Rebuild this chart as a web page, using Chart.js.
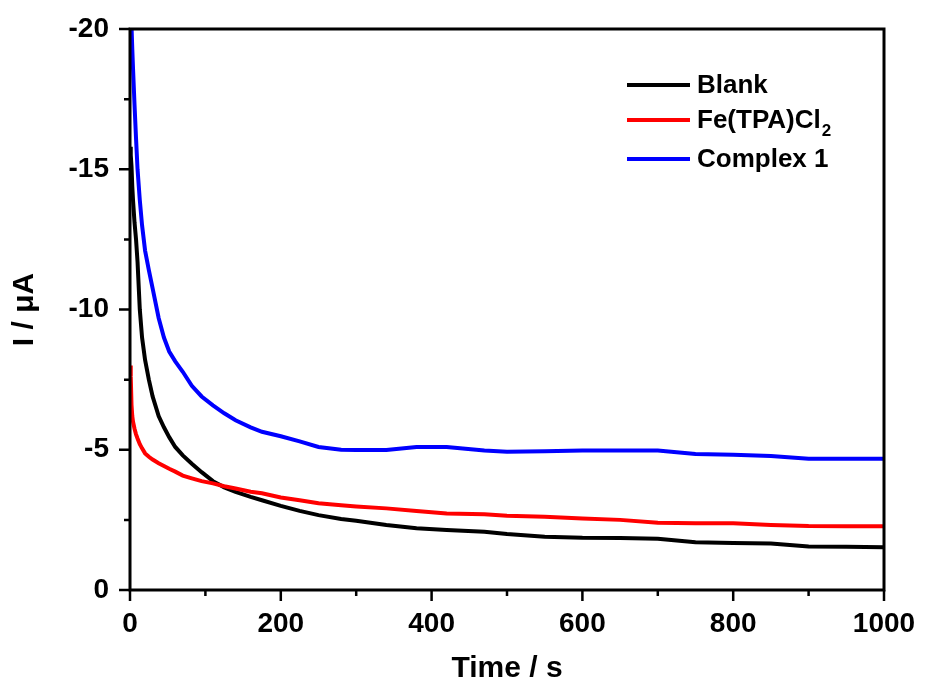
<!DOCTYPE html>
<html>
<head>
    <title>I / μA vs Time</title>
    <script src="https://cdn.jsdelivr.net/npm/chart.js"></script>
    <style>
        body { margin: 0; background: #fff; }
        canvas { display: block; }
    </style>
</head>
<body>
<canvas id="itChart" width="925" height="686"></canvas>

<script>
    // time points (s)
    const times = [0, 1, 2, 3, 4, 6, 8, 10, 13, 16, 20, 25, 30, 38, 45, 52, 60, 70, 82, 95,
                   110, 125, 140, 160, 175, 200, 225, 250, 280, 300, 340, 380, 420, 470, 500,
                   550, 600, 650, 700, 750, 800, 850, 900, 950, 1000];
    // currents (uA)
    const blank = [-15.8, -15.5, -15.1, -14.4, -13.9, -13.1, -12.5, -11.7, -10.0, -9.0, -8.2, -7.5, -6.9, -6.2, -5.8, -5.45, -5.1, -4.8, -4.5, -4.2,
                   -3.88, -3.66, -3.5, -3.32, -3.2, -3.0, -2.82, -2.67, -2.53, -2.47, -2.32, -2.2, -2.14, -2.08, -2.0,
                   -1.9, -1.86, -1.85, -1.83, -1.7, -1.68, -1.66, -1.55, -1.54, -1.52];
    const feTpa = [-8.0, -7.6, -6.6, -6.2, -6.0, -5.75, -5.55, -5.4, -5.2, -5.05, -4.87, -4.75, -4.65, -4.52, -4.42, -4.32, -4.22, -4.08, -3.98, -3.88,
                   -3.8, -3.7, -3.62, -3.5, -3.45, -3.3, -3.2, -3.09, -3.02, -2.98, -2.91, -2.82, -2.73, -2.7, -2.65,
                   -2.61, -2.55, -2.5, -2.4, -2.38, -2.38, -2.32, -2.28, -2.27, -2.27];
    const complex1 = [-22, -21, -20.1, -19.3, -18.6, -17.3, -16.1, -15.0, -13.9, -13.0, -12.1, -11.4, -10.75, -9.7, -9.0, -8.5, -8.15, -7.78, -7.28, -6.9,
                      -6.58, -6.3, -6.05, -5.8, -5.64, -5.48, -5.3, -5.1, -5.0, -4.99, -4.99, -5.1, -5.1, -4.97, -4.93,
                      -4.95, -4.97, -4.97, -4.97, -4.85, -4.82, -4.78, -4.68, -4.68, -4.68];

    const labels = ['Blank', 'Fe(TPA)Cl', 'Complex 1'];
    const labelSubs = ['', '2', ''];
    const colors = ['#000000', '#ff0000', '#0000ff'];

    const xMajor = [0, 200, 400, 600, 800, 1000];
    const xMinor = [100, 300, 500, 700, 900];
    const yMajor = [0, -5, -10, -15, -20];
    const yMinor = [-2.5, -7.5, -12.5, -17.5];

    const FONT = "'Liberation Sans', Arial, sans-serif";

    function toPoints(ys) {
        return times.map((t, i) => ({ x: t, y: ys[i] }));
    }

    // frame, major/minor ticks and legend
    const decorPlugin = {
        id: 'decor',
        afterDraw(chart) {
            const c = chart.ctx;
            const a = chart.chartArea;
            const xs = chart.scales.x, ys = chart.scales.y;
            c.save();
            c.strokeStyle = '#000';
            c.lineWidth = 3;
            c.strokeRect(a.left, a.top, a.right - a.left, a.bottom - a.top);
            c.lineWidth = 2.5;
            c.beginPath();
            xMajor.forEach(v => { const p = xs.getPixelForValue(v); c.moveTo(p, a.bottom); c.lineTo(p, a.bottom + 11); });
            xMinor.forEach(v => { const p = xs.getPixelForValue(v); c.moveTo(p, a.bottom); c.lineTo(p, a.bottom + 6); });
            yMajor.forEach(v => { const p = ys.getPixelForValue(v); c.moveTo(a.left, p); c.lineTo(a.left - 11, p); });
            yMinor.forEach(v => { const p = ys.getPixelForValue(v); c.moveTo(a.left, p); c.lineTo(a.left - 6, p); });
            c.stroke();

            // legend
            const rows = [85, 120, 159];
            c.textBaseline = 'middle';
            c.textAlign = 'left';
            rows.forEach((y, i) => {
                c.strokeStyle = colors[i];
                c.lineWidth = 4;
                c.beginPath();
                c.moveTo(627, y);
                c.lineTo(690, y);
                c.stroke();
                c.fillStyle = '#000';
                c.font = 'bold 26px ' + FONT;
                c.fillText(labels[i], 697, y + 1);
                if (labelSubs[i]) {
                    const w = c.measureText(labels[i]).width;
                    c.font = 'bold 17px ' + FONT;
                    c.fillText(labelSubs[i], 697 + w + 1, y + 11);
                }
            });
            c.restore();
        }
    };

    const chart = new Chart(document.getElementById('itChart'), {
        type: 'line',
        data: {
            datasets: [
                { label: 'Blank', data: toPoints(blank), borderColor: colors[0], order: 2 },
                { label: 'Fe(TPA)Cl2', data: toPoints(feTpa), borderColor: colors[1], order: 1 },
                { label: 'Complex 1', data: toPoints(complex1), borderColor: colors[2], order: 0 }
            ]
        },
        options: {
            responsive: false,
            animation: false,
            layout: { padding: { left: 0, top: 29, right: 41, bottom: 0 } },
            elements: {
                line: { borderWidth: 4, tension: 0 },
                point: { radius: 0 }
            },
            datasets: { line: { clip: 0 } },
            plugins: {
                legend: { display: false },
                tooltip: { enabled: false }
            },
            scales: {
                x: {
                    type: 'linear',
                    min: 0,
                    max: 1000,
                    afterFit: s => { s.height = 96; s.paddingLeft = 0; s.paddingRight = 0; },
                    grid: { display: false, drawTicks: false },
                    border: { display: false },
                    ticks: {
                        stepSize: 200,
                        padding: 17,
                        color: '#000',
                        maxRotation: 0,
                        callback: v => String(v),
                        font: { family: FONT, size: 28, weight: 'bold' }
                    },
                    title: {
                        display: true,
                        text: 'Time / s',
                        color: '#000',
                        padding: { top: 0, bottom: 2 },
                        font: { family: FONT, size: 30, weight: 'bold', lineHeight: 1 }
                    }
                },
                y: {
                    min: -20,
                    max: 0,
                    reverse: true,
                    afterFit: s => { s.width = 130; s.paddingTop = 0; s.paddingBottom = 0; },
                    grid: { display: false, drawTicks: false },
                    border: { display: false },
                    ticks: {
                        stepSize: 5,
                        padding: 21,
                        color: '#000',
                        font: { family: FONT, size: 28, weight: 'bold' }
                    },
                    title: {
                        display: true,
                        text: 'I / μA',
                        color: '#000',
                        padding: { top: 10, bottom: 0 },
                        font: { family: FONT, size: 30, weight: 'bold', lineHeight: 1 }
                    }
                }
            }
        },
        plugins: [decorPlugin]
    });
</script>
</body>
</html>
